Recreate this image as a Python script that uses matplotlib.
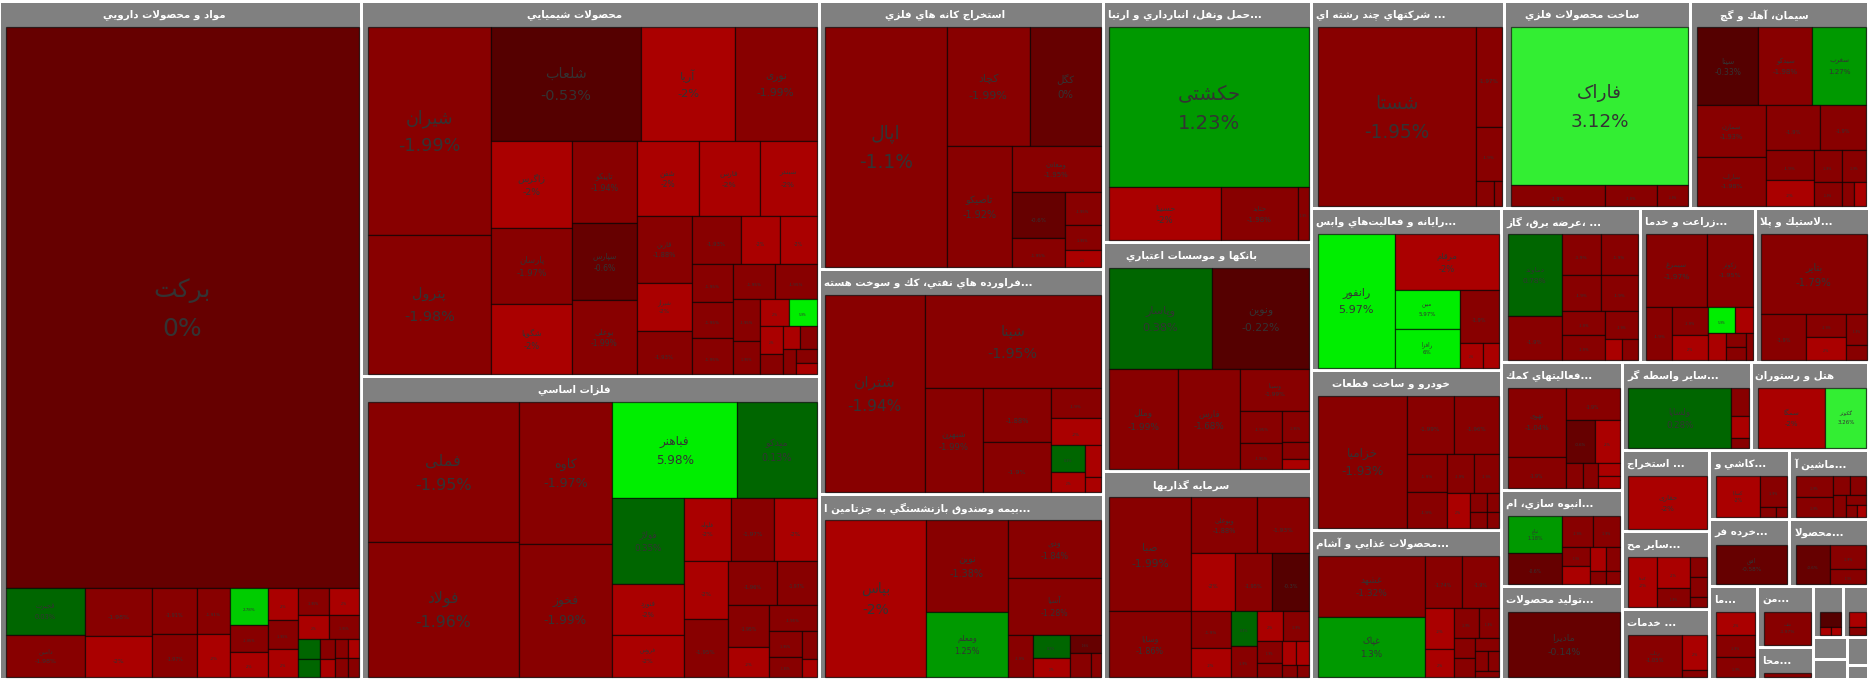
import unicodedata
import numpy as np
import matplotlib as mplt
mplt.use("Agg")
import matplotlib.pyplot as plt
from matplotlib.patches import Rectangle

# sector titles, same order as the sector sizes
sector_titles = [
    "مواد و محصولات دارويي", "محصولات شيميايي", "فلزات اساسي",
    "استخراج كانه هاي فلزي", "...فراورده هاي نفتي، كك و سوخت هسته",
    "...بيمه وصندوق بازنشستگي به جزتامين ا", "...حمل ونقل، انبارداري و ارتبا",
    "بانكها و موسسات اعتباري", "سرمايه گذاريها", "... شركتهاي چند رشته اي",
    "ساخت محصولات فلزي", "سيمان، آهك و گچ", "...رايانه و فعاليت\u200cهاي وابس",
    "خودرو و ساخت قطعات", "...محصولات غذايي و آشام", "... ،عرضه برق، گاز",
    "...زراعت و خدما", "...لاستيك و پلا", "...فعاليتهاي كمك", "...انبوه سازي، ام",
    "...توليد محصولات", "...ساير واسطه گر", "هتل و رستوران", "... استخراج",
    "...ساير مح", "... خدمات", "...كاشي و", "...ماشين آ", "...خرده فر", "...محصولا",
    "...ما", "...من", "...محا", "", "", "", "", "", "",
]
sector_sizes = [
    245097, 171562, 138622, 75970, 64042, 52540, 50248, 47850, 43264, 39951,
    38605, 36846, 30685, 30400, 28405, 21260, 17652, 17499, 15548, 11555,
    11313, 11416, 10398, 7087, 6825, 6125, 5520, 5451, 5360, 5293,
    4464, 3416, 1792, 1494, 1339, 748, 663, 588, 284,
]

# stocks per sector: names (only what is readable), size, change in percent
s01_names = ["برکت", "قجیرت", "دامین"]
s01_sizes = [197472, 3666, 3276, 3196, 2788, 2024, 1892, 1485, 1419, 1368, 1026, 950, 945, 885, 854,
             800, 800, 730, 730, 440, 396, 300, 270, 240, 216, 240, 216]
s01_pct = [0, 0.03, -1.98, -1.98, -2, -1.91, -1.97, -1.91, -2, 2.78, -1.95, -2, -2, -1.95, -2,
           -1.95, -2, -2, -1.95, 0.4, 0.4, -1.95, -2, -1.95, -2, -1.95, -1.95]

s02_names = ["شیران", "پترول", "شلعاب", "آریا", "نوری", "زاگرس", "پارسان", "شگویا", "تاپیکو", "سپارس", "بوعلی",
             "شفن", "فارس", "شبندر", "قاربن", "شیراز"]
s02_sizes = [25584, 17183, 17000, 10716, 9234, 7047, 6156, 5670, 5248, 4992, 4736, 4650, 4575, 4275,
             3685, 2640, 2365, 2352, 1872, 1776, 1530, 1500, 1470, 1470, 1435, 1134, 891, 783, 729,
             652, 450, 391, 391, 325, 280, 220]
s02_pct = [-1.99, -1.98, -0.53, -2, -1.99, -2, -1.97, -2, -1.94, -0.6, -1.99, -2, -2, -2,
           -1.88, -2, -1.93, -1.93, -2, -2, -1.95, -1.95, -1.95, -1.95, -1.95, -1.95, -1.95, -2, 5.9,
           -2, -1.95, -2, -1.95, -1.95, -1.95, -2]

s03_names = ["فملی", "فولاد", "کاوه", "فخوز", "فباهنر", "میدکو", "فولاژ", "فنورد", "فروس", "فلوله"]
s03_sizes = [20989, 20234, 13113, 12276, 11875, 7505, 6106, 3621, 2982, 2961, 2709, 2646, 2552, 2552,
             2156, 1716, 1722, 1230, 1222, 832, 640, 405, 270]
s03_pct = [-1.95, -1.96, -1.97, -1.99, 5.98, 0.13, 0.35, -2, -2, -2, -1.97, -2, -2, -1.95,
           -1.96, -1.97, -1.95, -2, -1.95, -1.95, -1.95, -1.95, -2]

s04_names = ["اپال", "کچاد", "کگل", "تاصیکو", "ومعادن"]
s04_sizes = [28919, 9877, 8330, 7800, 4048, 2438, 1484, 1155, 875, 560]
s04_pct = [-1.1, -1.99, 0, -1.92, -1.95, -0.6, -1.95, -1.95, -1.95, -2]

s05_names = ["شتران", "شپنا", "شبهرن"]
s05_sizes = [19404, 16275, 5974, 3551, 3350, 1421, 1323, 918, 680, 480, 225]
s05_pct = [-1.94, -1.95, -1.99, -1.88, -1.9, -1.9, -2, 0.3, -2, -2, -2]

s06_names = ["بپاس", "نوین", "ومعلم", "ودی", "آسیا"]
s06_sizes = [15500, 7462, 5248, 5278, 5096, 1008, 851, 703, 540, 504, 216]
s06_pct = [-2, -1.38, 1.25, -1.84, -1.28, -1.9, 0.3, -2, -0.6, -1.9, -1.9]

s07_names = ["حکشتی", "حسینا", "حتاید"]
s07_sizes = [32200, 5936, 4081, 583]
s07_pct = [1.23, -2, -1.98, -1.9]

s08_names = ["وپاسار", "ونوین", "وملل", "فارس", "وسینا"]
s08_sizes = [10403, 9797, 6900, 6300, 2856, 1344, 1134, 837, 459, 270]
s08_pct = [0.38, -0.22, -1.99, -1.68, -1.99, -1.95, -1.95, -1.95, -1.95, -2]

s09_names = ["صبا", "وسایا", "وبوعلی"]
s09_sizes = [9266, 5330, 3630, 2860, 2508, 2109, 2109, 1480, 1120, 910, 806, 780, 780, 550, 350,
             336, 312, 168, 144]
s09_pct = [-1.99, -1.86, -1.88, -1.93, -2, -1.95, -0.3, -1.9, -2, 0.3, -1.9, -2, -1.9, -1.9, -1.9,
           -2, -2, -1.9, -1.9]

s10_names = ["شستا"]
s10_sizes = [28282, 2600, 1404, 450, 200]
s10_pct = [-1.95, -1.97, -1.9, -1.9, -1.9]

s11_names = ["فاراک"]
s11_sizes = [27808, 1974, 1092, 651]
s11_pct = [3.12, -1.9, -1.9, -1.9]

s12_names = ["سیتا", "سیدکو", "سغرب", "سمازن", "ساراب"]
s12_sizes = [4758, 4212, 4212, 3588, 3381, 2430, 2070, 1400, 1220, 900, 780, 680, 290, 290]
s12_pct = [-0.33, -1.98, 1.27, -1.93, -1.98, -1.9, -1.9, -1.9, -2, -1.9, -1.9, -1.9, -1.9, -2]

s13_names = ["رانفور", "مرقام", "مبین", "رافزا"]
s13_sizes = [10087, 5720, 2470, 2470, 2028, 552, 384]
s13_pct = [5.97, -2, 5.97, 6, -1.9, -2, -2]

s14_names = ["خزامیا"]
s14_sizes = [11570, 2668, 2610, 1443, 1365, 1026, 950, 782, 323, 228, 255, 180]
s14_pct = [-1.93, -1.99, -1.96, -1.9, -1.9, -1.9, -1.9, -2, -1.9, -1.9, -1.9, -1.9]

s15_names = ["غشهد", "غپاک"]
s15_sizes = [6466, 6254, 1938, 1887, 1189, 812, 720, 600, 399, 399, 299, 240, 220, 138]
s15_pct = [-1.32, 1.3, -1.74, -1.9, -2, -2, -1.9, -1.9, -1.9, -1.9, -1.9, -1.9, -1.9, -1.9]

s16_names = ["دماوند"]
s16_sizes = [4320, 2322, 1560, 1440, 1365, 1260, 1032, 1032, 896, 340, 300]
s16_pct = [0.78, -1.9, -1.9, -1.9, -1.9, -1.9, -1.9, -1.9, -1.9, -2, -1.9]

s17_names = ["سیمرغ", "زکوثر"]
s17_sizes = [4320, 3240, 1352, 980, 840, 702, 442, 468, 280, 240, 156]
s17_pct = [-1.97, -1.95, -1.9, -1.9, -2, 5.9, -2, -2, -1.9, -1.9, -1.9]

s18_names = ["بتایر"]
s18_sizes = [8295, 2025, 920, 880, 620, 280]
s18_pct = [-1.79, -1.9, -1.9, -2, -1.9, -1.9]

s19_names = ["تهوی"]
s19_sizes = [3944, 1740, 1728, 1189, 1025, 425, 350, 286, 264]
s19_pct = [-1.04, -1.9, -1.9, -0.6, -2, -1.9, -1.9, -2, -2]

s20_names = ["ثباغ"]
s20_sizes = [1980, 1650, 930, 837, 513, 459, 384, 336, 192, 168]
s20_pct = [1.18, -0.6, -1.9, -1.9, -1.9, -2, -2, -1.9, -1.9, -1.9]

s21_names = ["مادیرا"]
s21_sizes = [7168]
s21_pct = [-0.14]

s22_names = ["ولساپا"]
s22_sizes = [5858, 486, 378, 180]
s22_pct = [0.28, -1.9, -2, -1.9]

s23_names = ["سمگا", "گکوثر"]
s23_sizes = [3886, 2378]
s23_pct = [-2, 3.26]

s24_names = ["حفاری"]
s24_sizes = [4004]
s24_pct = [-2]

s25_names = ["کدما"]
s25_sizes = [1296, 960, 576, 323, 323, 153]
s25_pct = [-2, -2, -1.9, -1.9, -1.9, -1.9]

s26_names = ["رتاپ"]
s26_sizes = [2132, 850, 175]
s26_pct = [-1.05, -2, -1.9]

s27_names = ["کساپا"]
s27_sizes = [1716, 810, 150, 110]
s27_pct = [-2, -1.9, -1.9, -1.9]

s28_names = []
s28_sizes = [700, 690, 306, 288, 273, 192, 128, 100]
s28_pct = [-1.9, -1.9, -1.9, -1.9, -1.9, -1.9, -1.9, -2]

s29_names = ["افق"]
s29_sizes = [2627]
s29_pct = [-0.58]

s30_names = []
s30_sizes = [1221, 828, 504]
s30_pct = [-0.6, -1.9, -1.9]

s31_names = []
s31_sizes = [860, 840, 741]
s31_pct = [-2, -1.9, -1.9]

s32_names = ["ملت"]
s32_sizes = [1472]
s32_pct = [-1.97]

s33_names = ["شهداب"]
s33_sizes = [184]
s33_pct = [-1.98]

s34_names = []
s34_sizes = [260, 88, 72]
s34_pct = [-0.3, -2, -2]

s35_names = []
s35_sizes = [238, 136]
s35_pct = [-2, -1.9]

# order here is the layout order of sector_sizes
sector_stocks = [
    (s01_names, s01_sizes, s01_pct), (s02_names, s02_sizes, s02_pct), (s03_names, s03_sizes, s03_pct),
    (s04_names, s04_sizes, s04_pct), (s05_names, s05_sizes, s05_pct), (s06_names, s06_sizes, s06_pct),
    (s07_names, s07_sizes, s07_pct), (s08_names, s08_sizes, s08_pct), (s09_names, s09_sizes, s09_pct),
    (s10_names, s10_sizes, s10_pct), (s11_names, s11_sizes, s11_pct), (s12_names, s12_sizes, s12_pct),
    (s13_names, s13_sizes, s13_pct), (s14_names, s14_sizes, s14_pct), (s15_names, s15_sizes, s15_pct),
    (s16_names, s16_sizes, s16_pct), (s17_names, s17_sizes, s17_pct), (s18_names, s18_sizes, s18_pct),
    (s19_names, s19_sizes, s19_pct), (s20_names, s20_sizes, s20_pct), (s21_names, s21_sizes, s21_pct),
    (s22_names, s22_sizes, s22_pct), (s23_names, s23_sizes, s23_pct), (s24_names, s24_sizes, s24_pct),
    (s25_names, s25_sizes, s25_pct), (s26_names, s26_sizes, s26_pct), (s27_names, s27_sizes, s27_pct),
    (s28_names, s28_sizes, s28_pct), (s29_names, s29_sizes, s29_pct), (s30_names, s30_sizes, s30_pct),
    (s31_names, s31_sizes, s31_pct), (s32_names, s32_sizes, s32_pct), (s33_names, s33_sizes, s33_pct),
    (s34_names, s34_sizes, s34_pct), (s35_names, s35_sizes, s35_pct),
    ([], [], []), ([], [], []), ([], [], []), ([], [], []),
]

# matplotlib does no arabic shaping, so pick presentation forms and reverse by hand
forms = {}
for code in range(0xFB50, 0xFEFD):
    parts = unicodedata.decomposition(chr(code)).split()
    if len(parts) == 2 and parts[0] in ("<isolated>", "<final>", "<initial>", "<medial>"):
        forms.setdefault(chr(int(parts[1], 16)), {})[parts[0]] = chr(code)
lam_alef = {"ا": ("\uFEFB", "\uFEFC"), "آ": ("\uFEF5", "\uFEF6")}


def shape(text):
    out = []
    prev_joins = False
    i = 0
    while i < len(text):
        c = text[i]
        nxt = text[i + 1] if i + 1 < len(text) else ""
        if c == "\u200c":
            prev_joins = False
        elif c == "ل" and nxt in lam_alef:
            out.append(lam_alef[nxt][1 if prev_joins else 0])
            prev_joins = False
            i += 1
        elif c in forms:
            can_join = "<initial>" in forms[c]
            next_joins = can_join and nxt in forms
            if prev_joins and next_joins:
                out.append(forms[c]["<medial>"])
            elif prev_joins:
                out.append(forms[c]["<final>"])
            elif next_joins:
                out.append(forms[c]["<initial>"])
            else:
                out.append(forms[c]["<isolated>"])
            prev_joins = can_join
        else:
            out.append(c)
            prev_joins = False
        i += 1
    return "".join(reversed(out))


def worst(row, side):
    s = sum(row)
    return max(max(row) * side**2 / s**2, s**2 / (side**2 * min(row)))


def squarify(values, x, y, w, h):
    scale = w * h / sum(values)
    areas = [v * scale for v in values]
    rects = []
    i = 0
    while i < len(areas):
        side = min(w, h)
        row = [areas[i]]
        j = i + 1
        while j < len(areas) and worst(row + [areas[j]], side) <= worst(row, side):
            row.append(areas[j])
            j += 1
        s = sum(row)
        if w >= h:
            cw = s / h
            yy = y
            for a in row:
                rects.append((x, yy, cw, a / cw))
                yy += a / cw
            x += cw
            w -= cw
        else:
            ch = s / w
            xx = x
            for a in row:
                rects.append((xx, y, a / ch, ch))
                xx += a / ch
            y += ch
            h -= ch
        i = j
    return rects


def tile_color(pct):
    if pct >= 5:
        return "#00ee00"
    if pct >= 3:
        return "#33ee33"
    if pct >= 2:
        return "#00cc00"
    if pct >= 1:
        return "#009900"
    if pct > 0:
        return "#006600"
    if pct <= -2:
        return "#aa0000"
    if pct <= -1:
        return "#880000"
    if -0.55 < pct < -0.2:
        return "#550000"
    return "#660000"


fig = plt.figure(figsize=(18.71, 6.81), dpi=100)
ax = fig.add_axes([0, 0, 1, 1])
ax.set_xlim(0, 1871)
ax.set_ylim(681, 0)
ax.axis("off")

for (x, y, w, h), title, (names, sizes, pct) in zip(
    squarify(sector_sizes, 0, 1.5, 1869, 678), sector_titles, sector_stocks
):
    # gray box with a small white gap to the neighbours
    gx, gy, gw, gh = x + 1.5, y + 1.5, w - 3, h - 3
    ax.add_patch(Rectangle((gx, gy), gw, gh, facecolor="#808080", edgecolor="none", zorder=1))
    if title:
        if title.startswith("..."):
            ax.text(gx + 3, gy + 12, shape(title), color="white", fontsize=7.4, fontweight="bold",
                    ha="left", va="center", zorder=4, clip_on=True)
        else:
            ax.text(gx + gw / 2 - 16, gy + 12, shape(title), color="white", fontsize=7.4,
                    fontweight="bold", ha="center", va="center", zorder=4)
    if not sizes:
        continue
    rects = squarify(sizes, gx + 4.5, gy + 24, gw - 5.5, gh - 25)
    for k, (tx, ty, tw, th) in enumerate(rects):
        ax.add_patch(Rectangle((tx, ty), tw, th, facecolor=tile_color(pct[k]),
                               edgecolor=(0, 0, 0, 0.6), linewidth=0.9, zorder=2))
        font_px = min(0.11 * np.sqrt(tw * th), 25)
        if font_px < 2.5:
            continue
        cx, cy = tx + tw / 2, ty + th / 2
        name = names[k] if k < len(names) else ""
        if name:
            ax.text(cx, cy - 0.7 * font_px, shape(name), color="#333333", fontsize=font_px * 0.72,
                    ha="center", va="center", zorder=3)
        ax.text(cx, cy + 0.85 * font_px, f"{pct[k]:g}%", color="#333333", fontsize=font_px * 0.72,
                ha="center", va="center", zorder=3)

fig.savefig("out.png", dpi=100)
